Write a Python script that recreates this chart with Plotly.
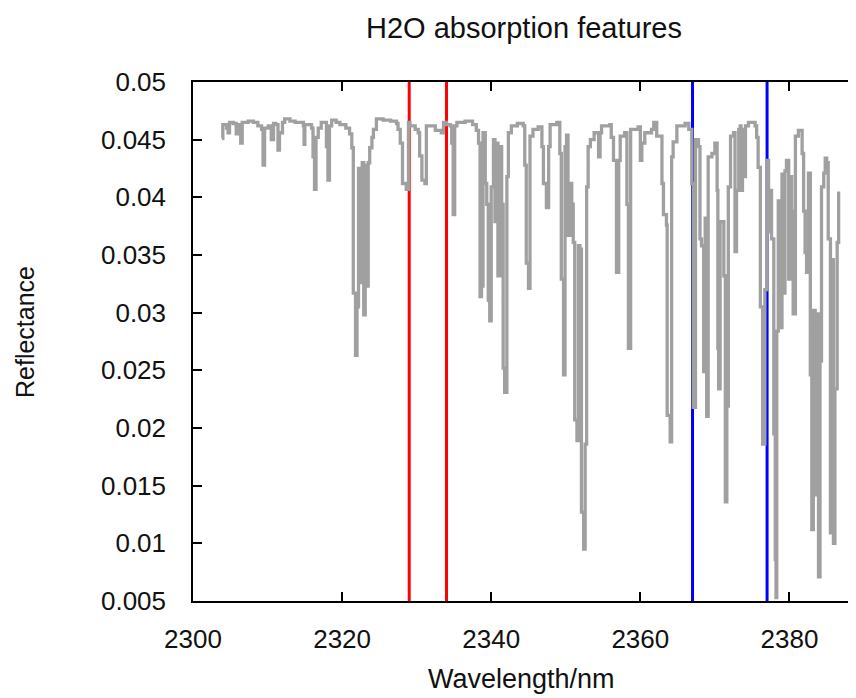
import plotly.graph_objects as go

# ---------------- data ----------------
wavelength = [
    2303.9, 2304.0, 2304.5, 2304.7, 2304.9, 2305.4, 2305.8, 2306.2, 2306.4, 2306.6,
    2307.4, 2308.1, 2308.7, 2309.2, 2309.4, 2309.6, 2310.1, 2310.5, 2310.8, 2311.1,
    2311.4, 2311.6, 2312.0, 2312.3, 2313.0, 2313.7, 2314.3,
    2314.8, 2314.9, 2315.0, 2315.9, 2316.1, 2316.3, 2316.5, 2316.8, 2317.2, 2317.9,
    2318.1, 2318.3, 2318.6, 2319.2, 2319.7, 2320.5, 2321.0, 2321.3, 2321.5, 2321.8,
    2322.0, 2322.2, 2322.4, 2322.7, 2322.9, 2323.1, 2323.3, 2323.5, 2323.7, 2324.0,
    2324.2, 2324.6, 2325.5, 2326.5, 2327.3, 2327.5, 2327.8, 2328.1, 2328.6, 2328.9,
    2329.1, 2329.8, 2330.2, 2330.4, 2330.7, 2331.1, 2331.3, 2331.8, 2332.5, 2333.3,
    2333.6, 2334.0, 2334.5, 2334.7, 2334.9, 2335.1, 2335.4, 2336.5, 2337.5, 2338.0,
    2338.3, 2338.5, 2338.7, 2338.9, 2339.2, 2339.4, 2339.6, 2339.8, 2340.0, 2340.3,
    2340.5, 2340.7, 2340.9, 2341.2, 2341.4, 2341.6, 2341.8, 2342.1, 2342.3, 2342.7,
    2343.5,
    2344.3, 2344.5, 2344.7, 2345.0, 2345.2, 2345.6, 2346.3, 2346.8, 2347.0, 2347.4,
    2347.7, 2347.9, 2348.8, 2349.2, 2349.4, 2349.7, 2349.9, 2350.1, 2350.3, 2350.6,
    2350.8, 2351.0, 2351.2, 2351.5, 2351.7, 2351.9, 2352.1, 2352.4, 2352.6, 2352.8,
    2353.0, 2353.3, 2353.8, 2354.4, 2354.6, 2354.8, 2355.9, 2356.1, 2356.4, 2356.8,
    2357.1, 2357.3, 2357.9, 2358.2, 2358.4, 2358.7,
    2359.7, 2360.0, 2360.2, 2360.6, 2361.5, 2361.8, 2362.2, 2362.9, 2363.1, 2363.5,
    2363.6, 2364.0, 2364.2, 2364.4, 2364.9, 2366.0, 2366.5, 2366.9, 2367.1, 2367.4,
    2367.8, 2368.0, 2368.2, 2368.5, 2368.7, 2368.9, 2369.1, 2369.6, 2370.0, 2370.3,
    2370.4, 2370.5, 2370.7, 2371.2, 2371.4, 2371.6, 2371.8, 2372.1, 2372.5, 2372.7,
    2372.9, 2373.2, 2373.4,
    2373.5, 2373.7, 2373.9, 2374.1, 2374.5, 2375.4, 2375.6, 2375.8, 2376.1, 2376.4,
    2376.7, 2377.0, 2377.2, 2377.4, 2377.6, 2377.9, 2378.1, 2378.2, 2378.3, 2378.5,
    2378.75, 2379.0, 2379.2, 2379.4, 2379.6, 2379.9, 2380.1, 2380.3, 2380.5, 2380.8,
    2381.2, 2381.7, 2381.9, 2382.1, 2382.3, 2382.55, 2382.8, 2383.0, 2383.2, 2383.45,
    2383.7, 2383.9, 2384.1, 2384.3, 2384.6, 2384.8, 2385.0, 2385.2, 2385.5, 2385.7,
    2385.9, 2386.1, 2386.4, 2386.6,
]

reflectance = [
    0.0451, 0.0463, 0.0460, 0.0456, 0.0465, 0.0464, 0.0455, 0.0463, 0.0447, 0.0465,
    0.0466, 0.0465, 0.0462, 0.0459, 0.0428, 0.0460, 0.0462, 0.0450, 0.0464, 0.0463,
    0.0441, 0.0456, 0.0465, 0.0468, 0.0466, 0.0465, 0.0465,
    0.0462, 0.0446, 0.0463, 0.0460, 0.0435, 0.0407, 0.0452, 0.0460, 0.0465, 0.0444,
    0.0415, 0.0462, 0.0467, 0.0465, 0.0463, 0.0460, 0.0455, 0.0443, 0.0317, 0.0263,
    0.0305, 0.0425, 0.0326, 0.0430, 0.0298, 0.0428, 0.0323, 0.0430, 0.0443, 0.0452,
    0.0459, 0.0468, 0.0467, 0.0466, 0.0464, 0.0459, 0.0447, 0.0412, 0.0407, 0.0465,
    0.0462, 0.0459, 0.0456, 0.0436, 0.0415, 0.0412, 0.0462, 0.0462, 0.0458, 0.0456,
    0.0465, 0.0463, 0.0462, 0.0447, 0.0385, 0.0462, 0.0465, 0.0466, 0.0463, 0.0458,
    0.0447, 0.0314, 0.0323, 0.0456, 0.0412, 0.0394, 0.0311, 0.0293, 0.0409, 0.0450,
    0.0379, 0.0447, 0.0332, 0.0444, 0.0394, 0.0252, 0.0231, 0.0418, 0.0456, 0.0462,
    0.0464,
    0.0462, 0.0428, 0.0343, 0.0321, 0.0453, 0.0459, 0.0461, 0.0444, 0.0412, 0.0391,
    0.0444, 0.0463, 0.0465, 0.0438, 0.0329, 0.0246, 0.0444, 0.0454, 0.0367, 0.0412,
    0.0394, 0.0361, 0.0207, 0.0189, 0.0358, 0.0355, 0.0127, 0.0095, 0.0186, 0.0409,
    0.0444, 0.0450, 0.0456, 0.0435, 0.0456, 0.0462, 0.0463, 0.0452, 0.0432, 0.0335,
    0.0432, 0.0453, 0.0456, 0.0394, 0.0269, 0.0459,
    0.0461, 0.0432, 0.0447, 0.0456, 0.0459, 0.0465, 0.0453, 0.0412, 0.0385, 0.0376,
    0.0211, 0.0188, 0.0435, 0.0448, 0.0462, 0.0464, 0.0459, 0.0412, 0.0218, 0.0450,
    0.0444, 0.0364, 0.0358, 0.0249, 0.0382, 0.0210, 0.0435, 0.0438, 0.0447, 0.0406,
    0.0269, 0.0234, 0.0379, 0.0332, 0.0136, 0.0219, 0.0409, 0.0453, 0.0456, 0.0353,
    0.0406, 0.0459, 0.0462,
    0.0406, 0.0459, 0.0418, 0.0462, 0.0465, 0.0462, 0.0452, 0.0426, 0.0305, 0.0186,
    0.0320, 0.0432, 0.0370, 0.0406, 0.0364, 0.0195, 0.0086, 0.0053, 0.0284, 0.0397,
    0.0287, 0.0420, 0.0317, 0.0423, 0.0432, 0.0329, 0.0418, 0.0388, 0.0299, 0.0453,
    0.0458, 0.0438, 0.0388, 0.0352, 0.0335, 0.0421, 0.0246, 0.0112, 0.0302, 0.0142,
    0.0299, 0.0071, 0.0258, 0.0409, 0.0421, 0.0434, 0.0430, 0.0364, 0.0109, 0.0346,
    0.0100, 0.0234, 0.0361, 0.0405,
]

red_lines = [2329, 2334]
blue_lines = [2367, 2377]

x_tick_vals = [2300, 2320, 2340, 2360, 2380]
x_tick_text = ["2300", "2320", "2340", "2360", "2380"]
y_tick_vals = [0.005, 0.01, 0.015, 0.02, 0.025, 0.03, 0.035, 0.04, 0.045, 0.05]
y_tick_text = ["0.005", "0.01", "0.015", "0.02", "0.025", "0.03", "0.035", "0.04", "0.045", "0.05"]

y_range = [0.005, 0.05]
x_range = [2300, 2390]

title_text = "H2O absorption features"
x_label = "Wavelength/nm"
y_label = "Reflectance"

# ---------------- figure ----------------
FONT = "Liberation Sans, Arial, Helvetica, sans-serif"
TXT = "#111111"
fig = go.Figure()

for xv in red_lines:
    fig.add_trace(go.Scatter(x=[xv, xv], y=y_range, mode="lines",
                             line=dict(color="#ff0000", width=3),
                             showlegend=False, hoverinfo="skip"))
for xv in blue_lines:
    fig.add_trace(go.Scatter(x=[xv, xv], y=y_range, mode="lines",
                             line=dict(color="#0000ff", width=3),
                             showlegend=False, hoverinfo="skip"))

fig.add_trace(go.Scatter(x=wavelength, y=reflectance, mode="lines",
                         line=dict(color="#a0a0a0", width=3.3, shape="hv"),
                         showlegend=False))

# page body has an 8px margin; plot area spans x 193..864, y 82..601 on the page
W, H = 870, 690
ML, MR, MT, MB = 185, 14, 74, 97
PW = W - ML - MR
PH = H - MT - MB

def px_x(page_x):
    return (page_x - 8 - ML) / PW

def px_y(page_y):
    return (H - MB - (page_y - 8)) / PH

fig.update_layout(
    width=W, height=H,
    margin=dict(l=ML, r=MR, t=MT, b=MB),
    paper_bgcolor="white", plot_bgcolor="white",
    font=dict(family=FONT, size=26, color=TXT),
    annotations=[
        dict(text=title_text, xref="paper", yref="paper", x=px_x(524), y=px_y(28),
             xanchor="center", yanchor="middle", showarrow=False,
             font=dict(family=FONT, size=29, color=TXT)),
        dict(text=x_label, xref="paper", yref="paper", x=px_x(521), y=px_y(679),
             xanchor="center", yanchor="middle", showarrow=False,
             font=dict(family=FONT, size=27, color=TXT)),
        dict(text=y_label, xref="paper", yref="paper", x=px_x(25), y=px_y(332),
             xanchor="center", yanchor="middle", showarrow=False, textangle=-90,
             font=dict(family=FONT, size=25, color=TXT)),
    ],
)

fig.update_xaxes(
    range=x_range, tickvals=x_tick_vals, ticktext=x_tick_text,
    ticks="inside", ticklen=9, tickwidth=1.5, tickcolor="black",
    showline=True, linecolor="black", linewidth=1.5, mirror="ticks",
    showgrid=False, zeroline=False, ticklabelstandoff=14,
)
fig.update_yaxes(
    range=y_range, tickvals=y_tick_vals, ticktext=y_tick_text,
    ticks="inside", ticklen=9, tickwidth=1.5, tickcolor="black",
    showline=True, linecolor="black", linewidth=1.5, mirror="ticks",
    showgrid=False, zeroline=False, ticklabelstandoff=20,
)

fig.write_html("out.html")
